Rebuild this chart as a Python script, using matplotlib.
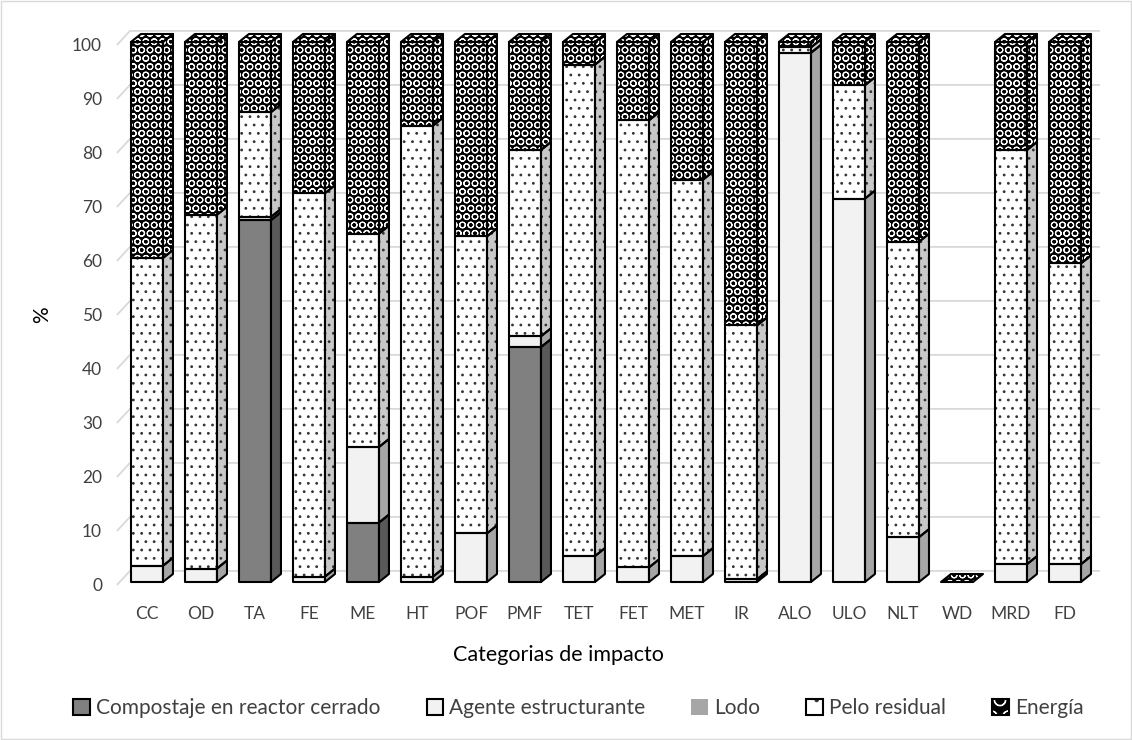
import matplotlib.pyplot as plt
from matplotlib.patches import Polygon, Patch, Rectangle
from matplotlib.legend_handler import HandlerTuple

plt.rcParams['font.family'] = ['Lato', 'DejaVu Sans']
plt.rcParams['hatch.linewidth'] = 0.8

categorias = ["CC", "OD", "TA", "FE", "ME", "HT", "POF", "PMF", "TET",
              "FET", "MET", "IR", "ALO", "ULO", "NLT", "WD", "MRD", "FD"]

compostaje = [0, 0, 67, 0, 11, 0, 0, 43.5, 0, 0, 0, 0, 0, 0, 0, 0, 0, 0]
agente = [3, 2.5, 0.6, 1, 14, 1, 9, 2, 4.8, 2.7, 4.8, 0.5, 98, 71, 8.3, 0, 3.3, 3.3]
lodo = [0] * 18
pelo = [57, 65.5, 19.4, 71, 39.5, 83.5, 55, 34.5, 91, 82.8, 69.7, 47, 1, 21, 54.7, 0, 76.7, 55.7]
energia = [40, 32, 13, 28, 35.5, 15.5, 36, 20, 4.2, 14.5, 25.5, 52.5, 1, 8, 37, 0, 20, 41]

series = ["Compostaje en reactor cerrado", "Agente estructurante", "Lodo",
          "Pelo residual", "Energía"]
valores = [compostaje, agente, lodo, pelo, energia]

# front / side face fill, hatch, hatch colour
estilos = [
    dict(front='#808080', side='#595959', hatch=None, hc='#808080'),
    dict(front='#f2f2f2', side='#a6a6a6', hatch=None, hc='#f2f2f2'),
    dict(front='#a6a6a6', side='#7f7f7f', hatch=None, hc='#a6a6a6'),
    dict(front='white', side='#c8c8c8', hatch='..', hc='#333333'),
    dict(front='black', side='black', hatch='OO', hc='white'),
]

w = 0.593      # front face width
dx = 0.185     # depth offset, x
dy = 1.48      # depth offset, y
s = 0.55       # bars sit a bit behind the front wall

fig = plt.figure(figsize=(11.32, 7.40), dpi=100)
ax = fig.add_axes([0.1012, 0.2022, 0.873, 0.7604])
ax.set_xlim(-0.6, 17.7)
ax.set_ylim(-1, 103.2)


def face(pts, st, fill_key):
    fc = st[fill_key]
    if st['hatch']:
        ax.add_patch(Polygon(pts, closed=True, facecolor=fc, edgecolor=st['hc'],
                             hatch=st['hatch'], lw=0, zorder=3))
    else:
        ax.add_patch(Polygon(pts, closed=True, facecolor=fc, lw=0, zorder=3))
    ax.add_patch(Polygon(pts, closed=True, fill=False, edgecolor='black',
                         lw=1.5, joinstyle='round', zorder=4))


# back wall gridlines with the short side-wall diagonals
for v in range(0, 101, 10):
    ax.plot([-0.556, -0.315, 17.65], [v, v + 2.6, v + 2.6],
            color='#d9d9d9', lw=1.3, zorder=1, solid_capstyle='butt')

for i, cat in enumerate(categorias):
    x0 = i - w / 2
    x1 = i + w / 2
    base = 0.0
    top_style = estilos[4]
    for k in range(len(series)):
        h = valores[k][i]
        if h <= 0:
            continue
        b = base + s
        t = base + h + s
        face([(x0, b), (x1, b), (x1, t), (x0, t)], estilos[k], 'front')
        face([(x1, b), (x1 + dx, b + dy), (x1 + dx, t + dy), (x1, t)], estilos[k], 'side')
        base += h
        top_style = estilos[k]
    T = base + s
    face([(x0, T), (x0 + dx, T + dy), (x1 + dx, T + dy), (x1, T)], top_style, 'side')

for sp in ax.spines.values():
    sp.set_visible(False)
ax.set_xticks(range(len(categorias)))
ax.set_xticklabels(categorias)
ax.set_yticks(range(0, 101, 10))
ax.tick_params(length=0, labelsize=12.5, labelcolor='#404040')
ax.tick_params(axis='x', pad=11)
ax.tick_params(axis='y', pad=9)

fig.text(0.493, 1 - 655 / 740, "Categorias de impacto", ha='center', va='center',
         fontsize=15.5, color='black')
fig.text(42 / 1132, 1 - 315 / 740, "%", ha='center', va='center', rotation=90,
         fontsize=15, color='black')

# legend keys: pattern fill with a black outline laid on top
handles = []
for k, st in enumerate(estilos):
    if st['hatch']:
        fill = Patch(facecolor=st['front'], edgecolor=st['hc'], hatch=st['hatch'][0], lw=0)
    else:
        fill = Patch(facecolor=st['front'], lw=0)
    if k == 2:
        handles.append(fill)
    else:
        handles.append((fill, Patch(fill=False, edgecolor='black', lw=1.5)))
leg = fig.legend(handles, series, loc='center', bbox_to_anchor=(0.511, 1 - 708 / 740),
                 ncol=5, frameon=False, fontsize=15, handlelength=0.8,
                 handleheight=0.8, handletextpad=0.3, columnspacing=2.2,
                 handler_map={tuple: HandlerTuple(ndivide=1, pad=0)})
for t in leg.get_texts():
    t.set_color('#404040')

fig.add_artist(Rectangle((0.001, 0.001), 0.998, 0.998, transform=fig.transFigure,
                         fill=False, edgecolor='#d9d9d9', lw=1))

fig.savefig("out.png", dpi=100)
